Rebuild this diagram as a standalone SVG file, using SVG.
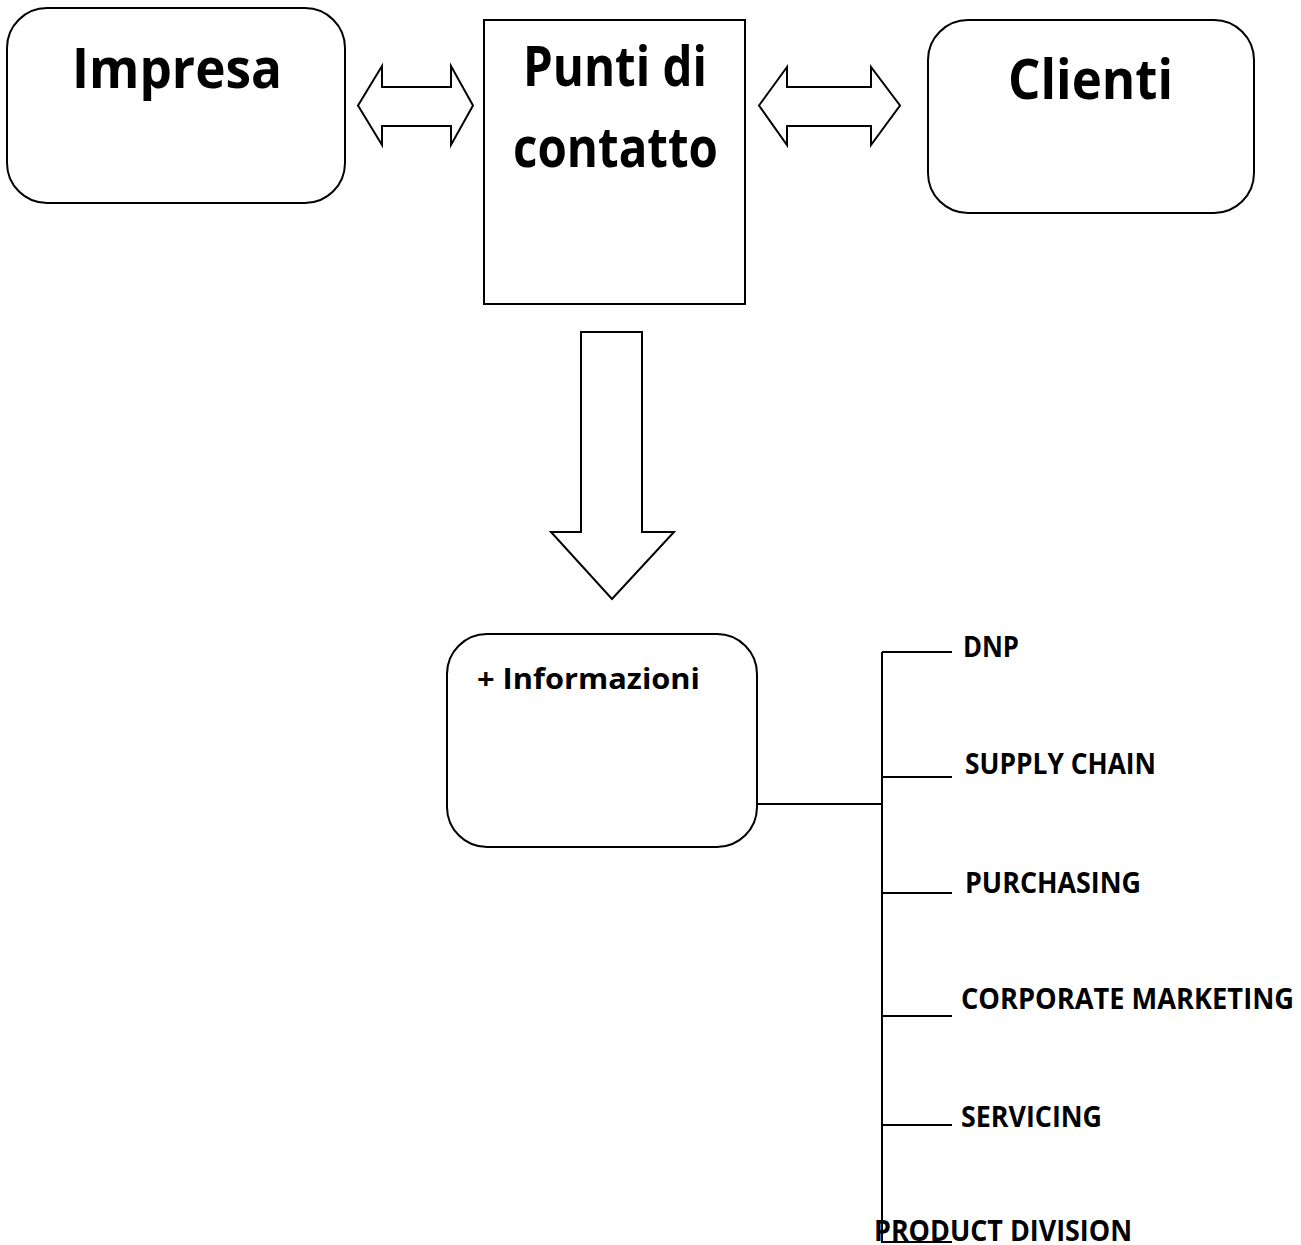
<svg xmlns="http://www.w3.org/2000/svg" width="1301" height="1245" viewBox="0 0 1301 1245">
  <style>
    .box { fill: #ffffff; stroke: #000000; stroke-width: 2; }
    .arrow { fill: #ffffff; stroke: #000000; stroke-width: 2; stroke-linejoin: miter; }
    .line { fill: none; stroke: #000000; stroke-width: 2; }
    text { font-family: "Open Sans", "Liberation Sans", sans-serif; font-weight: 700; fill: #000000; font-variant-ligatures: none; }
    .title { font-size: 55px; }
    .label { font-size: 28px; }
  </style>
  <rect x="0" y="0" width="1301" height="1245" fill="#ffffff"/>

  <!-- Top row -->
  <g id="impresa">
    <rect class="box" x="7" y="8" width="338" height="195" rx="40" ry="40"/>
    <text class="title" x="72" y="88" textLength="210" lengthAdjust="spacingAndGlyphs">Impresa</text>
  </g>

  <g id="punti-di-contatto">
    <rect class="box" x="484" y="20" width="261" height="284"/>
    <text class="title" x="523" y="86" textLength="184" lengthAdjust="spacingAndGlyphs">Punti di</text>
    <text class="title" x="513" y="167" textLength="205" lengthAdjust="spacingAndGlyphs">contatto</text>
  </g>

  <g id="clienti">
    <rect class="box" x="928" y="20" width="326" height="193" rx="40" ry="40"/>
    <text class="title" x="1008" y="99" textLength="165" lengthAdjust="spacingAndGlyphs">Clienti</text>
  </g>

  <!-- Information box -->
  <g id="informazioni">
    <rect class="box" x="447" y="634" width="310" height="213" rx="40" ry="40"/>
    <text class="label" x="477" y="689" textLength="223" lengthAdjust="spacingAndGlyphs">+ Informazioni</text>
  </g>

  <!-- Branch labels -->
  <g id="dnp">
    <text class="label" x="963" y="657" textLength="56" lengthAdjust="spacingAndGlyphs">DNP</text>
  </g>
  <g id="supply-chain">
    <text class="label" x="965" y="774" textLength="191" lengthAdjust="spacingAndGlyphs">SUPPLY CHAIN</text>
  </g>
  <g id="purchasing">
    <text class="label" x="965" y="893" textLength="176" lengthAdjust="spacingAndGlyphs">PURCHASING</text>
  </g>
  <g id="corporate-marketing">
    <text class="label" x="961" y="1009" textLength="333" lengthAdjust="spacingAndGlyphs">CORPORATE MARKETING</text>
  </g>
  <g id="servicing">
    <text class="label" x="961" y="1127" textLength="141" lengthAdjust="spacingAndGlyphs">SERVICING</text>
  </g>
  <g id="product-division">
    <text class="label" x="874" y="1241" textLength="258" lengthAdjust="spacingAndGlyphs">PRODUCT DIVISION</text>
  </g>

  <!-- Connectors -->
  <g id="connectors">
    <!-- double block arrow Impresa / Punti di contatto -->
    <polygon class="arrow" points="358,105.5 382,66 382,87 451,87 451,66 473,105.5 451,145 451,126 382,126 382,145"/>
    <!-- double block arrow Punti di contatto / Clienti -->
    <polygon class="arrow" points="759,105.5 787,67 787,87 871,87 871,67 900,105.5 871,145 871,126 787,126 787,145"/>
    <!-- down block arrow -->
    <polygon class="arrow" points="581,332 642,332 642,532 674,532 612,599 551,532 581,532"/>
    <!-- tree -->
    <line class="line" x1="757" y1="804" x2="882" y2="804"/>
    <line class="line" x1="882" y1="652" x2="882" y2="1243"/>
    <line class="line" x1="882" y1="652" x2="952" y2="652"/>
    <line class="line" x1="882" y1="777" x2="952" y2="777"/>
    <line class="line" x1="882" y1="893" x2="952" y2="893"/>
    <line class="line" x1="882" y1="1016" x2="952" y2="1016"/>
    <line class="line" x1="882" y1="1125" x2="952" y2="1125"/>
    <line class="line" x1="882" y1="1242" x2="952" y2="1242"/>
  </g>
</svg>
